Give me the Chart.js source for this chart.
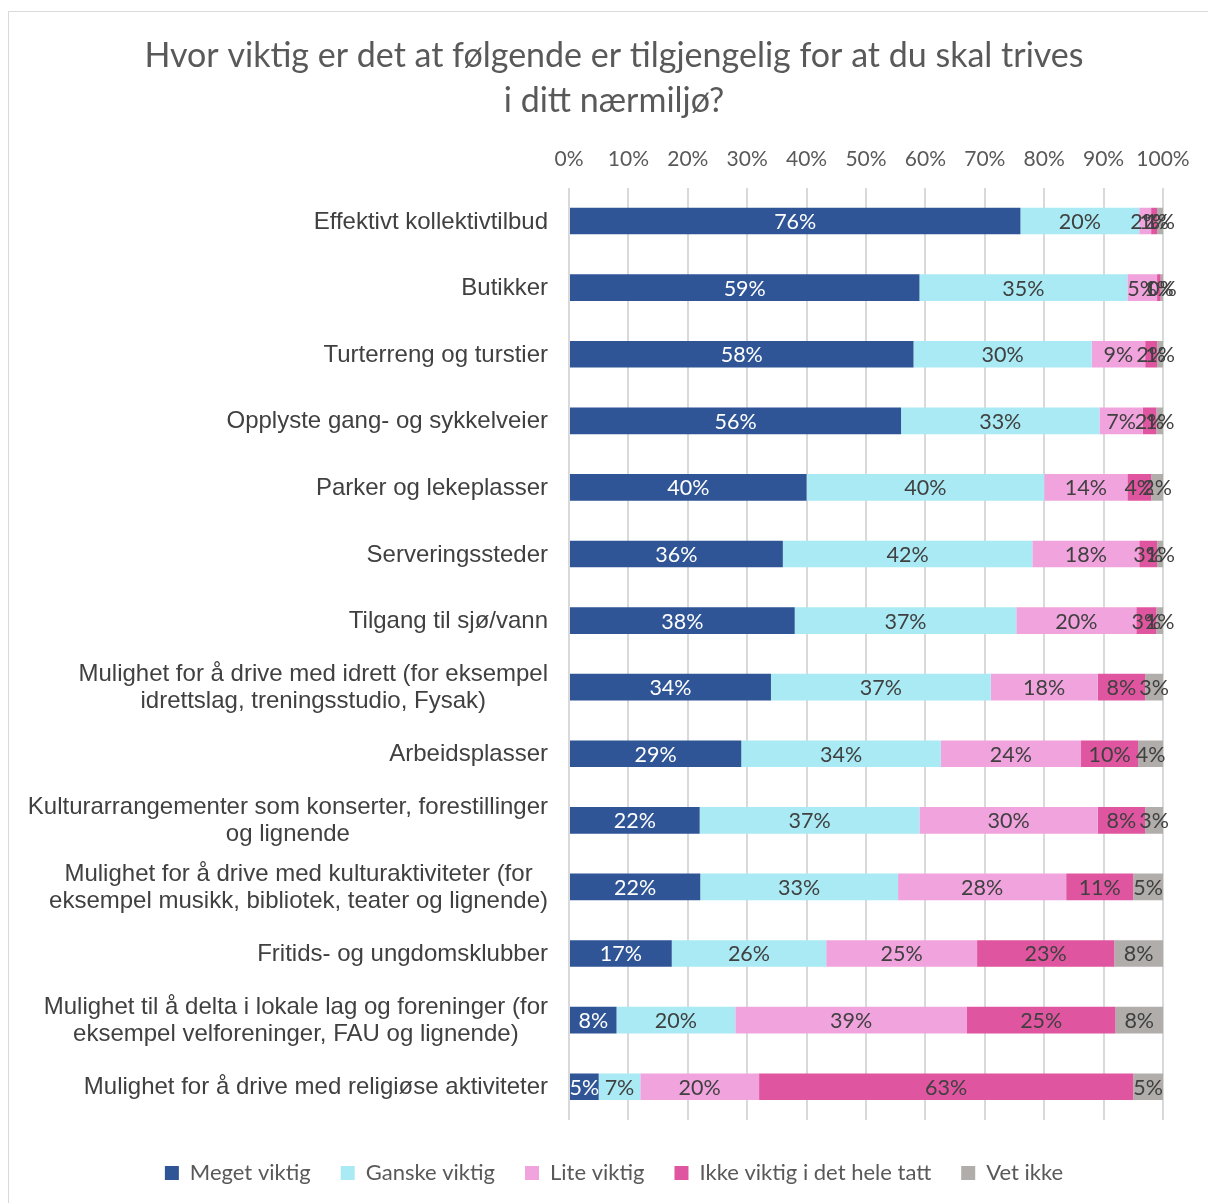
<!DOCTYPE html>
<html>
<head>
<meta charset="utf-8">
<script src="https://cdn.jsdelivr.net/npm/chart.js@4.4.1/dist/chart.umd.min.js"></script>
<style>
  body { margin: 0; background: #fff; }
  #frame { position: absolute; left: 8px; top: 11px; width: 1220px; height: 1220px; border: 1px solid #d9d9d9; }
  #wrap { position: absolute; left: 0; top: 0; width: 1208px; height: 1203px; }
</style>
</head>
<body>
<div id="frame"></div>
<div id="wrap"><canvas id="myBarChart"></canvas></div>
<script>
const categories = [
    'Effektivt kollektivtilbud',
    'Butikker',
    'Turterreng og turstier',
    'Opplyste gang- og sykkelveier',
    'Parker og lekeplasser',
    'Serveringssteder',
    'Tilgang til sjø/vann',
    ['Mulighet for å drive med idrett (for eksempel', 'idrettslag, treningsstudio, Fysak)'],
    'Arbeidsplasser',
    ['Kulturarrangementer som konserter, forestillinger', 'og lignende'],
    ['Mulighet for å drive med kulturaktiviteter (for', 'eksempel musikk, bibliotek, teater og lignende)'],
    'Fritids- og ungdomsklubber',
    ['Mulighet til å delta i lokale lag og foreninger (for', 'eksempel velforeninger, FAU og lignende)'],
    'Mulighet for å drive med religiøse aktiviteter'
];
const megetViktig = [76, 59, 58, 55.9, 40, 36, 38, 34, 29, 22, 22.1, 17.3, 8, 5];
const ganskeViktig = [20, 35, 30, 33.4, 40, 42, 37.3, 37, 33.6, 37, 33.3, 26, 20, 7];
const liteViktig = [2, 5, 9, 7.3, 14, 18, 20.2, 18, 23.6, 30, 28.3, 25.4, 39, 20];
const ikkeViktig = [1, 0.6, 2, 2.3, 4, 3, 3.4, 8, 9.6, 8, 11.3, 23.1, 25, 63];
const vetIkke = [1, 0.4, 1, 1.1, 2, 1, 1.1, 3, 4.2, 3, 5, 8.2, 8, 5];
const tickValues = [0, 10, 20, 30, 40, 50, 60, 70, 80, 90, 100];

// data labels in the middle of each segment
const segmentLabels = {
    id: 'segmentLabels',
    afterDatasetsDraw(chart) {
        const ctx = chart.ctx;
        ctx.save();
        ctx.font = '21.5px Lato';
        ctx.textAlign = 'center';
        ctx.textBaseline = 'middle';
        chart.data.datasets.forEach(function(ds, i) {
            const meta = chart.getDatasetMeta(i);
            meta.data.forEach(function(bar, j) {
                const v = ds.data[j];
                if (v == null) return;
                ctx.fillStyle = i === 0 ? '#ffffff' : '#404040';
                ctx.fillText(Math.round(v) + '%', (bar.x + bar.base) / 2, bar.y + 1);
            });
        });
        ctx.restore();
    }
};

// category labels: block right aligned, lines centred inside the block (like Excel)
const categoryLabels = {
    id: 'categoryLabels',
    afterDraw(chart) {
        const ctx = chart.ctx;
        const yScale = chart.scales.y;
        const right = chart.chartArea.left - 21;
        ctx.save();
        ctx.font = '24px "Liberation Sans"';
        ctx.fillStyle = '#404040';
        ctx.textAlign = 'center';
        ctx.textBaseline = 'middle';
        categories.forEach(function(lab, i) {
            const lines = Array.isArray(lab) ? lab : [lab];
            const w = Math.max.apply(null, lines.map(function(l) { return ctx.measureText(l).width; }));
            const cx = right - w / 2;
            const y = yScale.getPixelForValue(i) + 1;
            const lh = 27;
            lines.forEach(function(l, k) {
                ctx.fillText(l, cx, y + (k - (lines.length - 1) / 2) * lh);
            });
        });
        ctx.restore();
    }
};

document.addEventListener('DOMContentLoaded', function() {
    const ctxBar = document.getElementById('myBarChart');
    new Chart(ctxBar, {
        type: 'bar',
        data: {
            labels: categories,
            datasets: [
                { label: 'Meget viktig', data: megetViktig, backgroundColor: '#2f5597' },
                { label: 'Ganske viktig', data: ganskeViktig, backgroundColor: '#a9eaf4' },
                { label: 'Lite viktig', data: liteViktig, backgroundColor: '#f0a3dd' },
                { label: 'Ikke viktig i det hele tatt', data: ikkeViktig, backgroundColor: '#e0559f' },
                { label: 'Vet ikke', data: vetIkke, backgroundColor: '#b0adab' }
            ]
        },
        options: {
            indexAxis: 'y',
            maintainAspectRatio: false,
            responsive: true,
            animation: false,
            categoryPercentage: 1,
            barPercentage: 0.4,
            layout: { padding: { left: 35, right: 15, top: 0, bottom: 9 } },
            plugins: {
                title: {
                    display: true,
                    text: ['Hvor viktig er det at følgende er tilgjengelig for at du skal trives', 'i ditt nærmiljø?'],
                    color: '#595959',
                    font: { family: 'Lato', size: 34, weight: 'normal', lineHeight: 1.32 },
                    padding: { top: 34, bottom: 8 }
                },
                legend: {
                    position: 'bottom',
                    labels: {
                        color: '#595959',
                        font: { family: 'Lato', size: 22 },
                        boxWidth: 14,
                        boxHeight: 14,
                        padding: 30
                    }
                },
                tooltip: { enabled: false }
            },
            scales: {
                x: {
                    position: 'top',
                    stacked: true,
                    min: 0,
                    max: 100,
                    afterBuildTicks: function(s) { s.ticks = tickValues.map(function(v) { return { value: v }; }); },
                    afterFit: function(s) { s.height = 56; },
                    ticks: {
                        color: '#595959',
                        font: { family: 'Lato', size: 21 },
                        padding: 16,
                        callback: function(v) { return v + '%'; }
                    },
                    grid: { color: '#d9d9d9', lineWidth: 2, drawTicks: false },
                    border: { display: false }
                },
                x2: {
                    position: 'bottom',
                    type: 'linear',
                    display: true,
                    ticks: { display: false },
                    grid: { display: false, drawTicks: false },
                    border: { display: false },
                    afterFit: function(s) { s.height = 12; }
                },
                y: {
                    stacked: true,
                    afterFit: function(s) { s.width = 534; },
                    ticks: { display: false },
                    grid: { display: false, drawTicks: false },
                    border: { display: false }
                },
                y2: {
                    position: 'right',
                    type: 'linear',
                    display: true,
                    ticks: { display: false },
                    grid: { display: false, drawTicks: false },
                    border: { display: false },
                    afterFit: function(s) { s.width = 30; }
                }
            }
        },
        plugins: [segmentLabels, categoryLabels]
    });
});
</script>
</body>
</html>
